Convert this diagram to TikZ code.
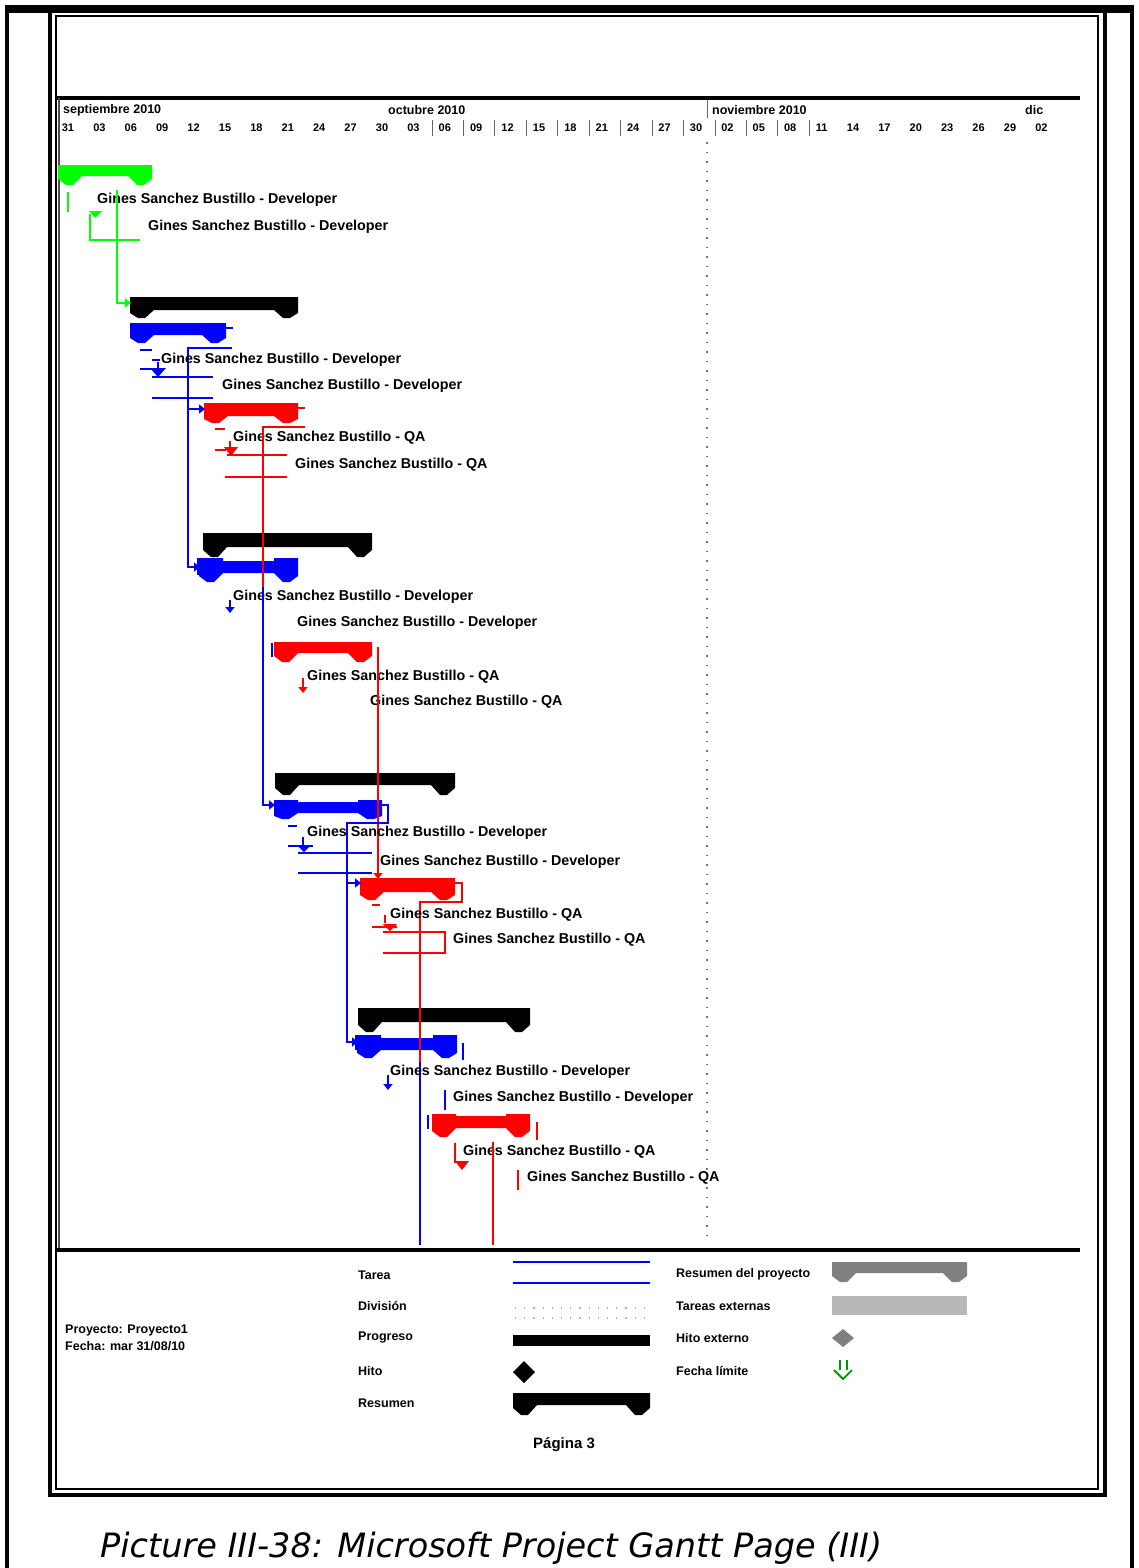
\documentclass[tikz,border=0pt]{standalone}
\usepackage{fontspec}
\setmainfont{Liberation Sans}
\newfontfamily\capfont{DejaVu Sans}
\usetikzlibrary{arrows.meta}
\definecolor{gGreen}{RGB}{0,255,0}
\definecolor{gBlue}{RGB}{0,0,255}
\definecolor{gRed}{RGB}{255,0,0}
\definecolor{dlGreen}{RGB}{0,150,0}
% summary-style bar: colour, x1, x2, cap top, band top, band bottom, tip
\newcommand\gbar[7]{%
  \fill[#1] (#2,#4) -- (#2+24,#4) -- (#2+24,#5) -- (#3-24,#5) -- (#3-24,#4)
    -- (#3,#4) -- (#3,#6+3) -- (#3-8,#7) -- (#3-15,#7) -- (#3-24,#6)
    -- (#2+24,#6) -- (#2+15,#7) -- (#2+8,#7) -- (#2,#6+3) -- cycle;}
\begin{document}
\begin{tikzpicture}[x=1pt,y=-1pt,
  gl/.style={line width=2pt},
  arr/.style={-{Triangle[length=6pt,width=9pt]}},
  lbl/.style={anchor=west,inner sep=0pt,text height=10pt,text depth=3pt,
    font=\bfseries\fontsize{14.3}{15}\selectfont},
  hdr/.style={anchor=west,inner sep=0pt,font=\bfseries\fontsize{12.5}{13}\selectfont},
  day/.style={inner sep=0pt,font=\bfseries\fontsize{11}{12}\selectfont},
  leg/.style={anchor=west,inner sep=0pt,font=\bfseries\fontsize{12.5}{13}\selectfont}]
\useasboundingbox (0,0) rectangle (1139,1568);
\fill[white] (0,0) rectangle (1139,1568);

% outer frame
\fill (5,5) rectangle (1134,13);
\fill (5,5) rectangle (9,1568);
\fill (1130,5) rectangle (1134,1568);
% page frame
\draw[line width=4pt] (50,11) rectangle (1105,1495);
\draw[line width=1.5pt] (56,16) rectangle (1098,1489);

% timescale
\fill (56,96) rectangle (1080,100);
\draw[line width=1.5pt,black!70] (59,98) -- (59,1250);
\draw[line width=1pt,black!60] (707,100) -- (707,118);
\node[hdr] (m1) at (63,110) {septiembre 2010};
\node[hdr] (m2) at (388,110) {octubre 2010};
\node[hdr] (m3) at (712,110) {noviembre 2010};
\node[hdr] (m4) at (1025,110) {dic};
\foreach \d [count=\i from 0] in {31,03,06,09,12,15,18,21,24,27,30,03,06,09,12,15,18,21,24,27,30,02,05,08,11,14,17,20,23,26,29,02}
  \node[day] (day\i) at ({68+31.4*\i},128) {\d};
\foreach \k in {0,...,12}
  \draw[line width=1pt,black!60] ({432+31.45*\k},120) -- ({432+31.45*\k},136);
\draw[black!55,line width=1.5pt,dash pattern=on 1.5pt off 8pt] (707,142) -- (707,1240);
\fill (56,1248) rectangle (1080,1252);

% ---- bars ----
\gbar{gGreen}{58}{152}{165}{165}{176}{185}
\gbar{black}{130}{298}{297}{297}{310}{318}
\gbar{gBlue}{130}{226}{323}{323}{335}{343}
\gbar{gRed}{204}{298}{403}{403}{416}{423}
\gbar{black}{203}{372}{533}{533}{547}{557}
\gbar{gBlue}{199}{298}{558}{561}{573}{582}
\gbar{gRed}{274}{372}{642}{642}{653}{662}
\gbar{black}{275}{455}{773}{773}{785}{795}
\gbar{gBlue}{274}{382}{800}{802}{813}{819}
\gbar{gRed}{360}{455}{878}{878}{892}{900}
\gbar{black}{358}{530}{1008}{1008}{1022}{1032}
\gbar{gBlue}{357}{457}{1035}{1038}{1050}{1058}
\gbar{gRed}{432}{530}{1114}{1116}{1128}{1137}

% ---- first block (green) ----
\draw[gl,gGreen] (68,192) -- (68,212);
\node[lbl] (a1) at (97,200) {Gines Sanchez Bustillo - Developer};
\fill[gGreen] (89,211) -- (102,211) -- (95.5,218) -- cycle;
\draw[gl,gGreen] (90,214) -- (90,240) -- (140,240);
\node[lbl] (a2) at (148,227) {Gines Sanchez Bustillo - Developer};
\draw[gl,gGreen,arr] (117,190) -- (117,303) -- (131,303);

% ---- second block ----
\draw[gl,gBlue] (226,328) -- (233,328);
\draw[gl,gBlue] (140,350) -- (152,350);
\draw[gl,gBlue,arr] (232,348) -- (188,348) -- (188,567) -- (200,567);
\draw[gl,gBlue] (152,360) -- (160,360);
\node[lbl] (b1) at (161,360) {Gines Sanchez Bustillo - Developer};
\draw[gl,gBlue] (140,369) -- (152,369);
\draw[gl,gBlue] (158,362) -- (158,369);
\fill[gBlue] (150,368) -- (166,368) -- (158,377) -- cycle;
\draw[gl,gBlue] (152,377) -- (213,377);
\node[lbl] (b2) at (222,386) {Gines Sanchez Bustillo - Developer};
\draw[gl,gBlue] (152,398) -- (213,398);
\draw[gl,gBlue,arr] (188,409) -- (205,409);
\draw[gl,gRed] (298,408) -- (305,408);
\draw[gl,gRed] (215,429) -- (225,429);
\node[lbl] (c1) at (233,438) {Gines Sanchez Bustillo - QA};
\draw[gl,gRed] (230,441) -- (230,448);
\draw[gl,gRed] (215,450) -- (226,450);
\fill[gRed] (224,447) -- (238,447) -- (231,456) -- cycle;
\draw[gl,gRed] (227,455) -- (287,455);
\node[lbl] (c2) at (295,465) {Gines Sanchez Bustillo - QA};
\draw[gl,gRed] (225,477) -- (287,477);
\draw[gl,gRed] (305,427) -- (263,427) -- (263,588);

% ---- third block ----
\draw[gl,gBlue] (198,558) -- (198,575);
\node[lbl] (d1) at (233,597) {Gines Sanchez Bustillo - Developer};
\draw[gl,gBlue,arr] (230,600) -- (230,613);
\node[lbl] (d2) at (297,623) {Gines Sanchez Bustillo - Developer};
\draw[gl,gBlue,arr] (263,587) -- (263,805) -- (275,805);
\draw[gl,gBlue] (272,643) -- (272,657);
\node[lbl] (e1) at (307,677) {Gines Sanchez Bustillo - QA};
\draw[gl,gRed,arr] (303,678) -- (303,693);
\node[lbl] (e2) at (370,702) {Gines Sanchez Bustillo - QA};
\draw[gl,gRed,arr] (378,647) -- (378,879);

% ---- fourth block ----
\draw[gl,gBlue,arr] (382,805) -- (388,805) -- (388,823) -- (347,823) -- (347,1042) -- (358,1042);
\draw[gl,gBlue] (288,826) -- (297,826);
\node[lbl] (f1) at (307,833) {Gines Sanchez Bustillo - Developer};
\draw[gl,gBlue] (303,837) -- (303,845);
\draw[gl,gBlue] (288,846) -- (313,846);
\fill[gBlue] (297,845) -- (311,845) -- (304,852) -- cycle;
\draw[gl,gBlue] (298,853) -- (372,853);
\node[lbl] (f2) at (380,862) {Gines Sanchez Bustillo - Developer};
\draw[gl,gBlue] (298,873) -- (372,873);
\draw[gl,gBlue,arr] (347,883) -- (361,883);
\draw[gl,gRed] (455,883) -- (462,883) -- (462,902) -- (420,902) -- (420,1062);
\draw[gl,gBlue] (420,1062) -- (420,1245);
\draw[gl,gRed] (372,905) -- (380,905);
\node[lbl] (g1) at (390,915) {Gines Sanchez Bustillo - QA};
\draw[gl,gRed] (385,915) -- (385,923);
\draw[gl,gRed] (372,927) -- (397,927);
\fill[gRed] (383,924) -- (397,924) -- (390,931) -- cycle;
\draw[gl,gRed] (383,932) -- (445,932) -- (445,953) -- (383,953);
\node[lbl] (g2) at (453,940) {Gines Sanchez Bustillo - QA};

% ---- fifth block ----
\draw[gl,gBlue] (356,1035) -- (356,1050);
\draw[gl,gBlue] (463,1043) -- (463,1060);
\node[lbl] (h1) at (390,1072) {Gines Sanchez Bustillo - Developer};
\draw[gl,gBlue,arr] (388,1075) -- (388,1090);
\draw[gl,gBlue] (445,1090) -- (445,1110);
\node[lbl] (h2) at (453,1098) {Gines Sanchez Bustillo - Developer};
\draw[gl,gBlue] (428,1115) -- (428,1129);
\draw[gl,gRed] (537,1122) -- (537,1140);
\draw[gl,gRed] (455,1143) -- (455,1162) -- (462,1162);
\fill[gRed] (455,1161) -- (469,1161) -- (462,1170) -- cycle;
\node[lbl] (i1) at (463,1152) {Gines Sanchez Bustillo - QA};
\draw[gl,gRed] (493,1142) -- (493,1245);
\draw[gl,gRed] (518,1170) -- (518,1190);
\node[lbl] (i2) at (527,1178) {Gines Sanchez Bustillo - QA};

% ---- legend ----
\node[leg] (pj) at (65,1330) {Proyecto: Proyecto1};
\node[leg] (dt) at (65,1346) {Fecha: mar 31/08/10};

\node[leg] (l1) at (358,1275) {Tarea};
\node[leg] (l2) at (358,1306) {División};
\node[leg] (l3) at (358,1338) {Progreso};
\node[leg] (l4) at (358,1371) {Hito};
\node[leg] (l5) at (358,1403) {Resumen};
\draw[gl,gBlue] (513,1262) -- (650,1262);
\draw[gl,gBlue] (513,1283) -- (650,1283);
\draw[black!30,line width=1.2pt,dash pattern=on 1.2pt off 8pt] (515,1308) -- (650,1308);
\draw[black!30,line width=1.2pt,dash pattern=on 1.2pt off 8pt] (515,1318) -- (650,1318);
\fill (513,1335) rectangle (650,1346);
\fill (513,1372) -- (524,1361) -- (535,1372) -- (524,1383) -- cycle;
\gbar{black}{513}{650}{1393}{1393}{1405}{1415}

\node[leg] (r1) at (676,1274) {Resumen del proyecto};
\node[leg] (r2) at (676,1306) {Tareas externas};
\node[leg] (r3) at (676,1338) {Hito externo};
\node[leg] (r4) at (676,1371) {Fecha límite};
\gbar{black!50}{832}{967}{1262}{1262}{1273}{1282}
\fill[black!28] (832,1296) rectangle (967,1315);
\fill[black!50] (832,1338) -- (843,1329) -- (854,1338) -- (843,1347) -- cycle;
\draw[dlGreen,line width=1.8pt] (840,1360) -- (840,1370) (847,1360) -- (847,1370);
\draw[dlGreen,line width=1.8pt] (834,1370) -- (843,1379) -- (852,1370);

\node[anchor=west,inner sep=0pt,font=\bfseries\fontsize{15}{16}\selectfont] (pg) at (533,1445) {Página 3};

% caption
\node[anchor=base west,inner sep=0pt,font=\capfont\itshape\fontsize{33.5}{40}\selectfont] (cap) at (100,1557) {Picture III-38: Microsoft Project Gantt Page (III)};
\end{tikzpicture}
\end{document}
